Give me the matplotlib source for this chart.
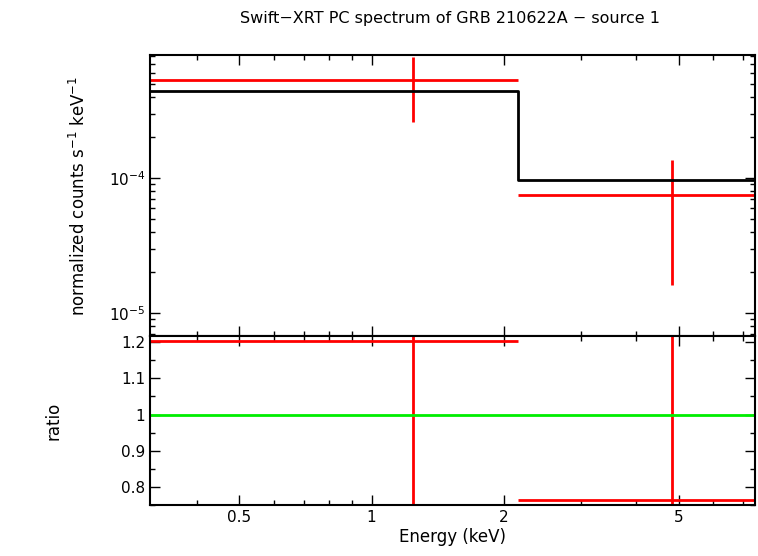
import matplotlib
matplotlib.use("Agg")
import matplotlib.pyplot as plt
from matplotlib.ticker import FixedLocator, NullFormatter

xlo = [0.313, 2.15]
xhi = [2.15, 7.46]
xc = [1.24, 4.82]
rate = [5.3e-4, 7.5e-5]
rate_lo = [2.6e-4, 1.6e-5]
rate_hi = [7.9e-4, 1.36e-4]
model = [4.4e-4, 9.7e-5]
ratio = [1.203, 0.763]
ratio_lo = [0.5, 0.3]
ratio_hi = [1.6, 1.5]

fig = plt.figure(figsize=(7.58, 5.56), dpi=100)
W, H = 758, 556
ax1 = fig.add_axes([150/W, 1-336/H, 605/W, 281/H])
ax2 = fig.add_axes([150/W, 1-505/H, 605/W, 169/H], sharex=ax1)

for i in range(2):
    ax1.hlines(rate[i], xlo[i], xhi[i], color="red", lw=2)
    ax1.vlines(xc[i], rate_lo[i], rate_hi[i], color="red", lw=2)
    ax2.hlines(ratio[i], xlo[i], xhi[i], color="red", lw=2)
    ax2.vlines(xc[i], ratio_lo[i], ratio_hi[i], color="red", lw=2)
ax1.step([xlo[0], xlo[1], xhi[1]], [model[0], model[1], model[1]], where="post", color="black", lw=2)
ax2.axhline(1.0, color="#00ee00", lw=2)

ax1.set_xscale("log")
ax1.set_yscale("log")
ax1.set_xlim(0.313, 7.46)
ax1.set_ylim(6.76e-6, 8.15e-4)
ax2.set_ylim(0.75, 1.217)

for ax in (ax1, ax2):
    ax.tick_params(which="both", direction="in", top=True, right=True, labelsize=11)
    ax.tick_params(which="major", length=7, width=1)
    ax.tick_params(which="minor", length=3.5, width=1)
    for s in ax.spines.values():
        s.set_linewidth(1.5)

ax2.xaxis.set_major_locator(FixedLocator([0.5, 1, 2, 5]))
ax2.set_xticklabels(["0.5", "1", "2", "5"])
ax2.xaxis.set_minor_locator(FixedLocator([0.4, 0.6, 0.7, 0.8, 0.9, 3, 4, 6, 7]))
ax2.xaxis.set_minor_formatter(NullFormatter())
plt.setp(ax1.get_xticklabels(), visible=False)

ax2.set_yticks([0.8, 0.9, 1.0, 1.1, 1.2])
ax2.set_yticklabels(["0.8", "0.9", "1", "1.1", "1.2"])
ax2.yaxis.set_minor_locator(FixedLocator([0.75 + 0.05*k for k in range(0, 10)]))
ax2.yaxis.set_minor_formatter(NullFormatter())

ax1.set_ylabel("normalized counts s$^{-1}$ keV$^{-1}$", fontsize=12, labelpad=14)
ax2.set_ylabel("ratio", fontsize=12, labelpad=42)
ax2.set_xlabel("Energy (keV)", fontsize=12, labelpad=2)
fig.text(450/W, 1-18/H, "Swift\u2212XRT PC spectrum of GRB 210622A \u2212 source 1", ha="center", va="center", fontsize=11.5)

fig.savefig("out.png", dpi=100)
